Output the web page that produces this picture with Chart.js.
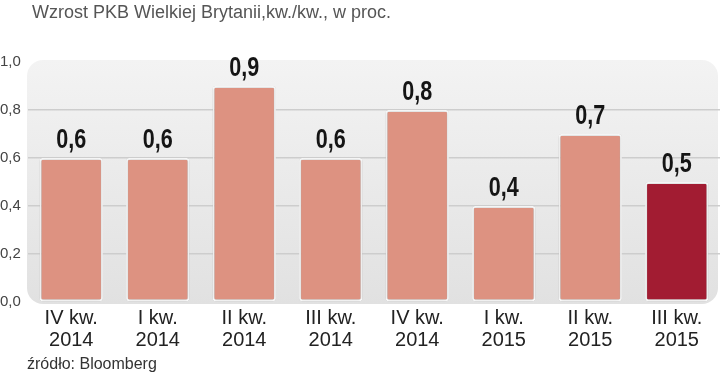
<!DOCTYPE html>
<html>
<head>
<meta charset="utf-8">
<script src="https://cdn.jsdelivr.net/npm/chart.js@4"></script>
<style>
  html, body { margin: 0; padding: 0; background: #fff; }
  #wrap { position: relative; width: 720px; height: 375px; overflow: hidden; }
  #title { position: absolute; left: 32px; top: 2px; font: 300 18px "Liberation Sans", sans-serif; color: #555; white-space: nowrap; }
  #source { position: absolute; left: 27px; top: 355px; font: 16px "Liberation Sans", sans-serif; color: #333; white-space: nowrap; }
  canvas { position: absolute; left: 0; top: 0; }
</style>
</head>
<body>
<div id="wrap">
  <canvas id="chart" width="720" height="375"></canvas>
  <div id="title">Wzrost PKB Wielkiej Brytanii,kw./kw., w proc.</div>
  <div id="source">źródło: Bloomberg</div>
</div>
<script>
// dane z wykresu
const quarters = [
  ["IV kw.", "2014"],
  ["I kw.", "2014"],
  ["II kw.", "2014"],
  ["III kw.", "2014"],
  ["IV kw.", "2014"],
  ["I kw.", "2015"],
  ["II kw.", "2015"],
  ["III kw.", "2015"],
];
const growth = [0.6, 0.6, 0.9, 0.6, 0.8, 0.4, 0.7, 0.5];
const yTicks = [0, 0.2, 0.4, 0.6, 0.8, 1.0];

const fmt = (v) => v.toFixed(1).replace(".", ",");

// szare tło z zaokrąglonymi rogami
const panelBg = {
  id: "panelBg",
  beforeDraw(chart) {
    const a = chart.chartArea;
    const ctx = chart.ctx;
    const x = a.left - 1, y = a.top - 2, w = 718 - x, h = a.bottom + 2 - y, r = 16;
    const g = ctx.createLinearGradient(0, y, 0, y + h);
    g.addColorStop(0, "#f3f3f3");
    g.addColorStop(1, "#e1e1e1");
    ctx.save();
    ctx.fillStyle = g;
    ctx.beginPath();
    ctx.roundRect(x, y, w, h, r);
    ctx.fill();
    ctx.restore();
  },
  beforeDatasetsDraw(chart) {
    const ctx = chart.ctx;
    ctx.save();
    ctx.shadowColor = "rgba(0,0,0,0.3)";
    ctx.shadowBlur = 3;
    ctx.shadowOffsetX = 0;
    ctx.shadowOffsetY = 0;
  },
  afterDatasetsDraw(chart) {
    const ctx = chart.ctx;
    ctx.restore();
    // wartości nad słupkami (czcionka zwężona)
    const meta = chart.getDatasetMeta(0);
    const sx = 0.8;
    meta.data.forEach((bar, i) => {
      ctx.save();
      ctx.translate(bar.x, bar.y - 10);
      ctx.scale(sx, 1);
      ctx.font = 'bold 27px "Liberation Sans", sans-serif';
      ctx.fillStyle = "#151515";
      ctx.textAlign = "center";
      ctx.textBaseline = "alphabetic";
      ctx.fillText(fmt(growth[i]), 0, 0);
      ctx.restore();
    });
  },
};

const colors = growth.map((v, i) => (i === growth.length - 1 ? "#a21c32" : "#dd9281"));

new Chart(document.getElementById("chart"), {
  type: "bar",
  data: {
    labels: quarters,
    datasets: [
      {
        data: growth,
        backgroundColor: colors,
        borderColor: "#ffffff",
        borderWidth: 2,
        borderRadius: 3,
        borderSkipped: false,
        barPercentage: 0.77,
        categoryPercentage: 0.95,
      },
    ],
  },
  options: {
    responsive: false,
    animation: false,
    layout: { padding: { top: 62, left: 0, right: 0, bottom: 0 } },
    plugins: {
      legend: { display: false },
      tooltip: { enabled: false },
    },
    scales: {
      x: {
        grid: { display: false, drawTicks: false },
        border: { display: false },
        ticks: {
          color: "#222",
          font: { family: "Liberation Sans", size: 20, lineHeight: 1.1 },
          padding: 5,
          maxRotation: 0,
          autoSkip: false,
        },
        afterFit(scale) { scale.height = 73; },
      },
      y: {
        min: 0,
        max: 1,
        afterBuildTicks(scale) { scale.ticks = yTicks.map((v) => ({ value: v })); },
        grid: {
          drawTicks: false,
          color: (c) => (c.tick && (c.tick.value === 0 || c.tick.value === 1) ? "rgba(0,0,0,0)" : "#cdcdcd"),
          lineWidth: 1.5,
        },
        border: { display: false },
        ticks: {
          color: "#444",
          font: { family: "Liberation Sans", size: 15 },
          crossAlign: "far",
          padding: 0,
          callback: (v) => fmt(v),
        },
        afterFit(scale) { scale.width = 28; },
      },
    },
  },
  plugins: [panelBg],
});
</script>
</body>
</html>
